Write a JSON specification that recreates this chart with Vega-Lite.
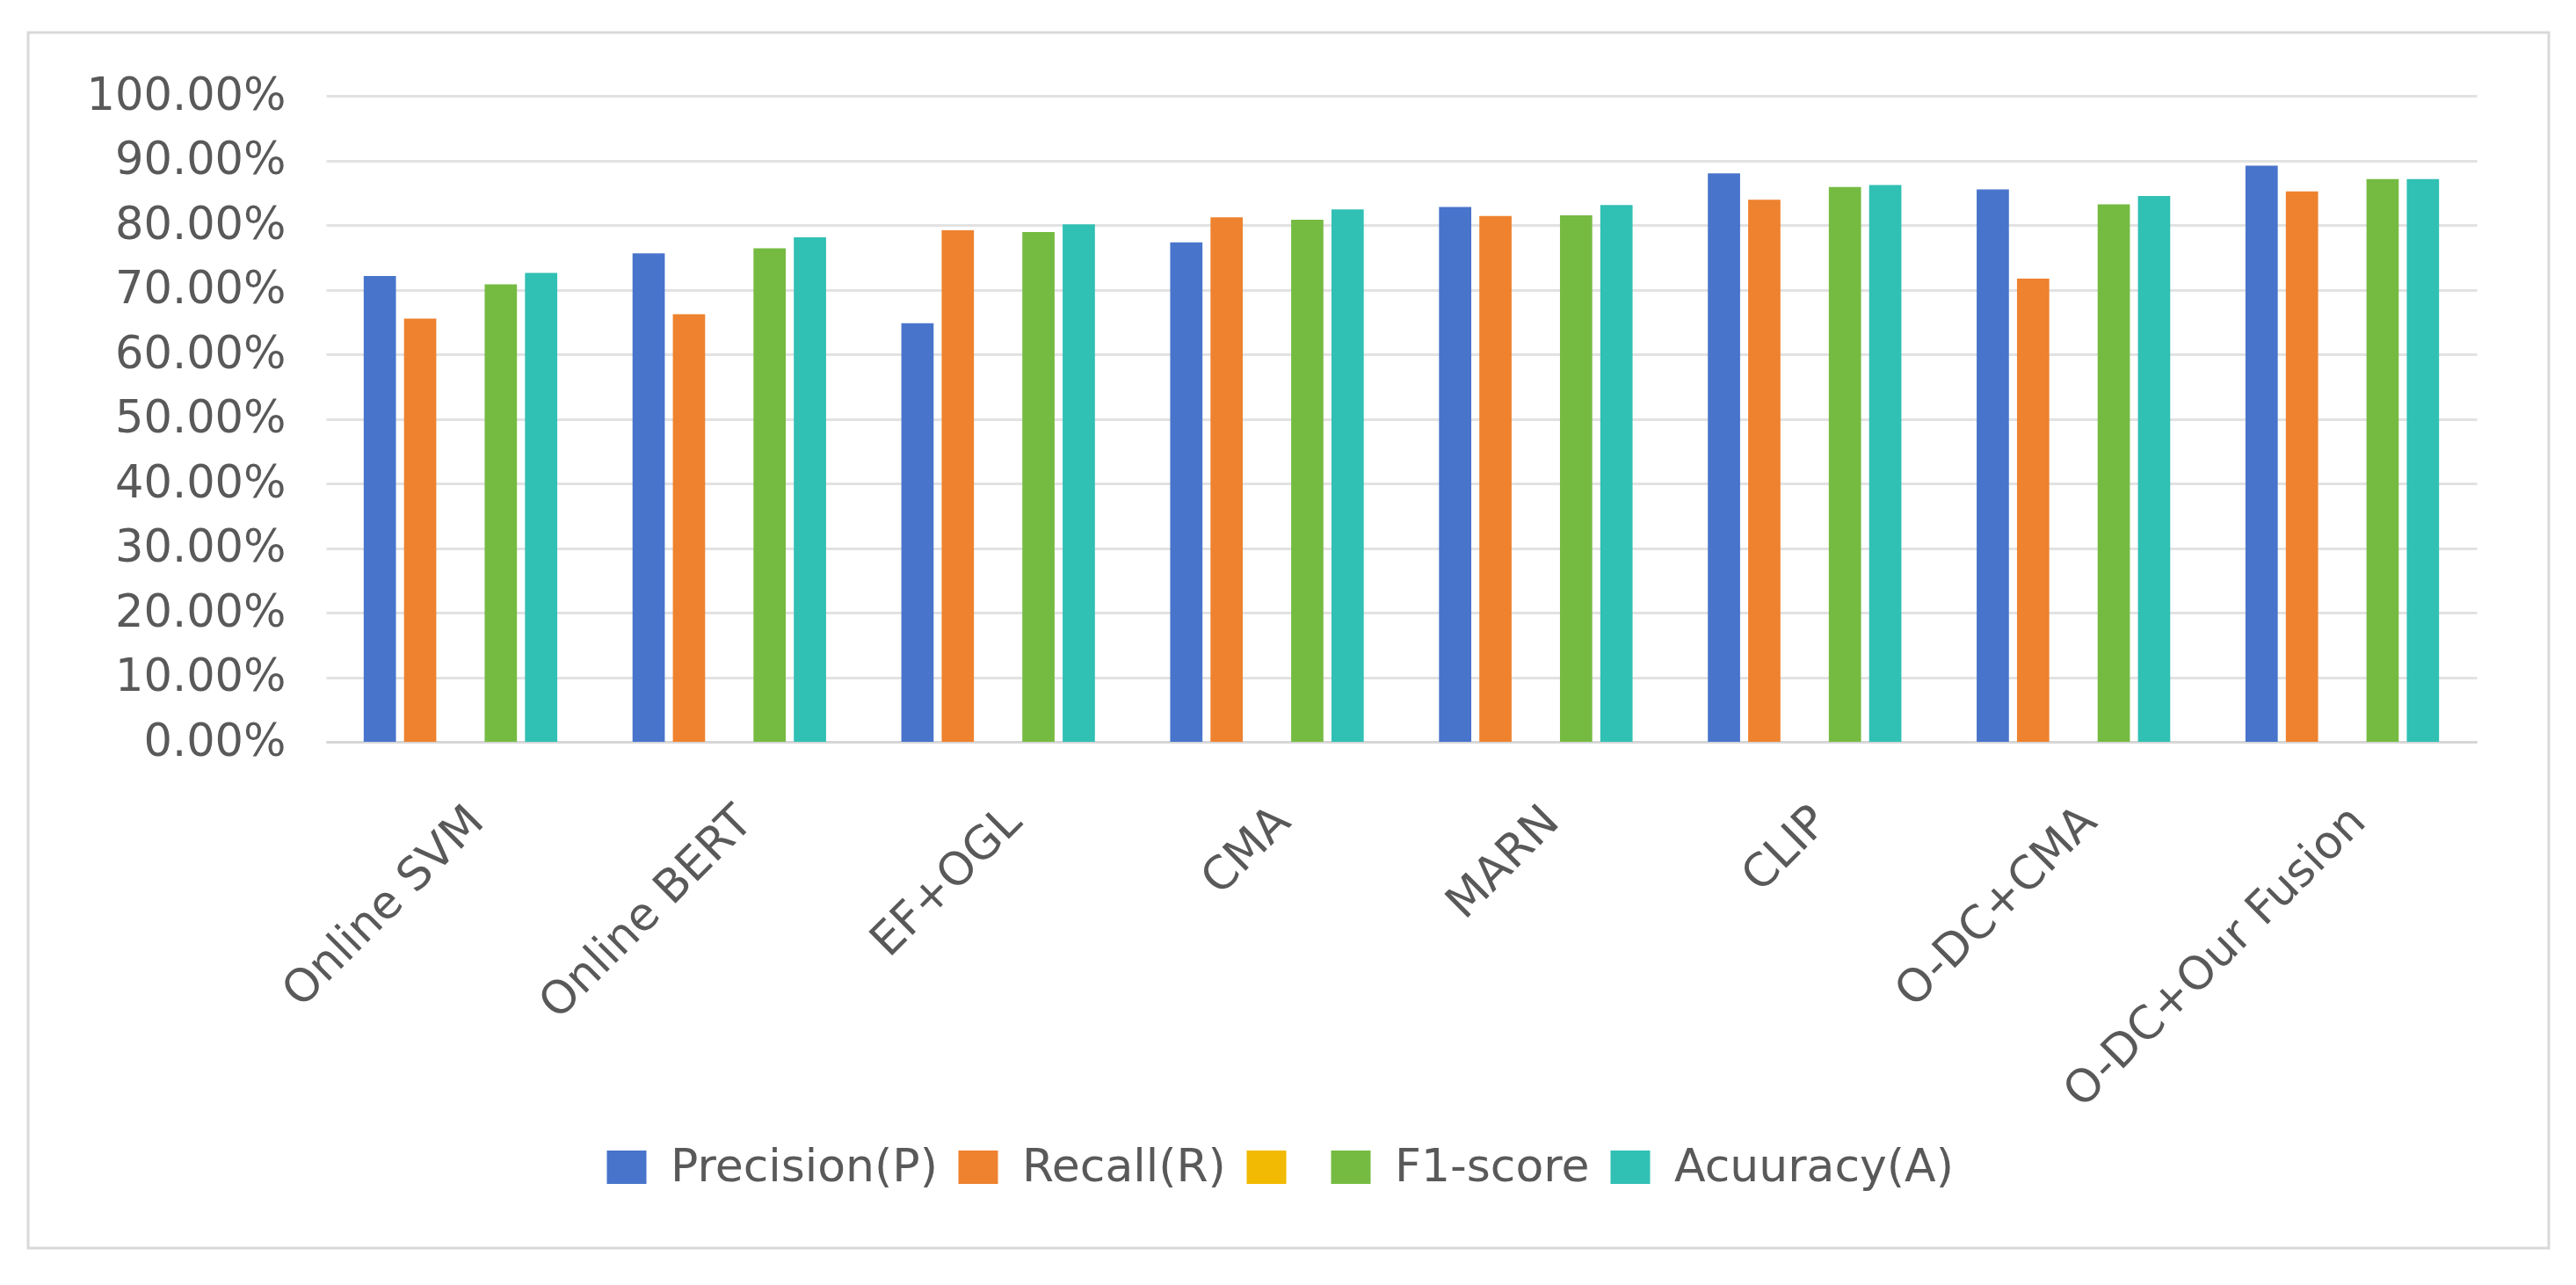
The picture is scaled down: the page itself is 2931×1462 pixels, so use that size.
{
  "$schema": "https://vega.github.io/schema/vega-lite/v6.json",
  "width": 2868,
  "height": 1383,
  "autosize": {"type": "none"},
  "padding": {"left": 32, "top": 37, "right": 31, "bottom": 42},
  "background": "#ffffff",
  "config": {
    "view": {"stroke": "#d9d9d9", "strokeWidth": 3},
    "font": "DejaVu Sans"
  },
  "data": {
    "values": [
      {"method": "Online SVM", "metric": "Precision(P)", "value": 0.721},
      {"method": "Online SVM", "metric": "Recall(R)", "value": 0.655},
      {"method": "Online SVM", "metric": "F1-score", "value": 0.708},
      {"method": "Online SVM", "metric": "Acuuracy(A)", "value": 0.726},
      {"method": "Online BERT", "metric": "Precision(P)", "value": 0.756},
      {"method": "Online BERT", "metric": "Recall(R)", "value": 0.662},
      {"method": "Online BERT", "metric": "F1-score", "value": 0.764},
      {"method": "Online BERT", "metric": "Acuuracy(A)", "value": 0.781},
      {"method": "EF+OGL", "metric": "Precision(P)", "value": 0.648},
      {"method": "EF+OGL", "metric": "Recall(R)", "value": 0.792},
      {"method": "EF+OGL", "metric": "F1-score", "value": 0.789},
      {"method": "EF+OGL", "metric": "Acuuracy(A)", "value": 0.801},
      {"method": "CMA", "metric": "Precision(P)", "value": 0.773},
      {"method": "CMA", "metric": "Recall(R)", "value": 0.812},
      {"method": "CMA", "metric": "F1-score", "value": 0.808},
      {"method": "CMA", "metric": "Acuuracy(A)", "value": 0.824},
      {"method": "MARN", "metric": "Precision(P)", "value": 0.828},
      {"method": "MARN", "metric": "Recall(R)", "value": 0.814},
      {"method": "MARN", "metric": "F1-score", "value": 0.815},
      {"method": "MARN", "metric": "Acuuracy(A)", "value": 0.831},
      {"method": "CLIP", "metric": "Precision(P)", "value": 0.880},
      {"method": "CLIP", "metric": "Recall(R)", "value": 0.839},
      {"method": "CLIP", "metric": "F1-score", "value": 0.859},
      {"method": "CLIP", "metric": "Acuuracy(A)", "value": 0.862},
      {"method": "O-DC+CMA", "metric": "Precision(P)", "value": 0.855},
      {"method": "O-DC+CMA", "metric": "Recall(R)", "value": 0.717},
      {"method": "O-DC+CMA", "metric": "F1-score", "value": 0.832},
      {"method": "O-DC+CMA", "metric": "Acuuracy(A)", "value": 0.845},
      {"method": "O-DC+Our Fusion", "metric": "Precision(P)", "value": 0.892},
      {"method": "O-DC+Our Fusion", "metric": "Recall(R)", "value": 0.852},
      {"method": "O-DC+Our Fusion", "metric": "F1-score", "value": 0.871},
      {"method": "O-DC+Our Fusion", "metric": "Acuuracy(A)", "value": 0.871}
    ]
  },
  "mark": {"type": "bar"},
  "encoding": {
    "x": {
      "field": "method",
      "type": "nominal",
      "sort": null,
      "scale": {"range": [339, 2786], "paddingInner": 0.25, "paddingOuter": 0.125},
      "axis": {
        "title": null,
        "offset": -576,
        "labelAngle": -45,
        "labelAlign": "right",
        "labelBaseline": "top",
        "labelPadding": 64,
        "labelFontSize": 52,
        "labelColor": "#595959",
        "labelFont": "DejaVu Sans",
        "labelLimit": 0,
        "ticks": false,
        "domainColor": "#d6d6d6",
        "domainWidth": 3,
        "grid": false
      }
    },
    "xOffset": {
      "field": "metric",
      "type": "nominal",
      "scale": {
        "domain": ["Precision(P)", "Recall(R)", "", "F1-score", "Acuuracy(A)"],
        "paddingInner": 0.2,
        "paddingOuter": 0.1
      }
    },
    "y": {
      "field": "value",
      "type": "quantitative",
      "scale": {"domain": [0, 1], "range": [807, 72], "nice": false},
      "axis": {
        "title": null,
        "offset": -339,
        "values": [0, 0.1, 0.2, 0.3, 0.4, 0.5, 0.6, 0.7, 0.8, 0.9, 1],
        "format": ".2%",
        "labelFontSize": 51,
        "labelColor": "#595959",
        "labelFont": "DejaVu Sans",
        "labelLimit": 0,
        "labelPadding": 46,
        "ticks": false,
        "domain": false,
        "grid": true,
        "gridColor": "#e2e2e2",
        "gridWidth": 3
      }
    },
    "color": {
      "field": "metric",
      "type": "nominal",
      "scale": {
        "domain": ["Precision(P)", "Recall(R)", "", "F1-score", "Acuuracy(A)"],
        "range": ["#4874CB", "#EE822F", "#F2BA02", "#75BB42", "#30C0B4"]
      },
      "legend": {
        "title": null,
        "orient": "none",
        "direction": "horizontal",
        "legendX": 655,
        "legendY": 1265,
        "padding": 0,
        "columnPadding": 20,
        "labelOffset": 24,
        "labelFontSize": 52,
        "labelColor": "#595959",
        "labelFont": "DejaVu Sans",
        "labelLimit": 0,
        "symbolType": "M-1,-0.84H1V0.84H-1Z",
        "symbolSize": 2025,
        "symbolStrokeWidth": 0,
        "symbolOpacity": 1
      }
    }
  }
}
